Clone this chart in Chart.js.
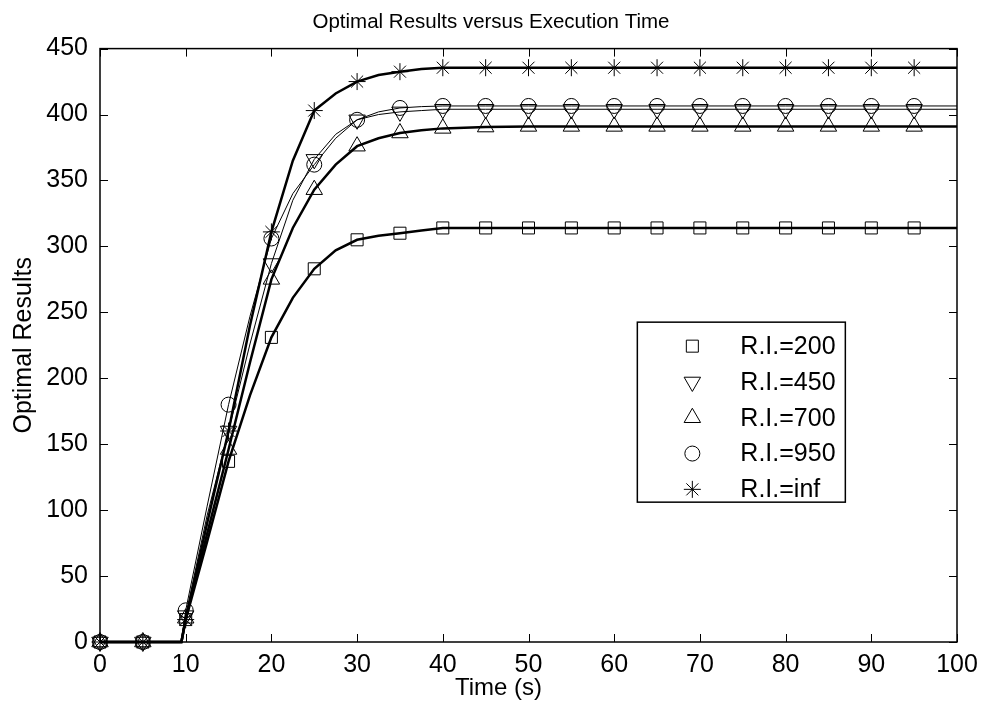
<!DOCTYPE html>
<html>
<head>
<meta charset="utf-8">
<script src="https://cdn.jsdelivr.net/npm/chart.js@4.4.1/dist/chart.umd.min.js"></script>
<style>
  html, body { margin: 0; padding: 0; background: #fff; }
  #wrap { width: 982px; height: 714px; }
</style>
</head>
<body>
<div id="wrap"><canvas id="chart" width="982" height="714"></canvas></div>
<script>
// time points (s); markers sit at every 5 s
var lineTimes = [0, 5, 9.5, 10, 12.5, 15, 17.5, 20, 22.5, 25, 27.5, 30, 32.5, 35, 37.5, 40,
  45, 50, 55, 60, 65, 70, 75, 80, 85, 90, 95, 100];

// optimal results per R.I. setting
var ri200 = [0, 0, 0, 17, 76, 137, 187, 231, 261, 283, 297, 305, 308, 310, 312, 314,
  314, 314, 314, 314, 314, 314, 314, 314, 314, 314, 314, 314];
var ri450 = [0, 0, 0, 20, 96, 160, 226, 287, 335, 366, 385, 396, 400, 402, 403, 404,
  404, 404, 404, 404, 404, 404, 404, 404, 404, 404, 404, 404];
var ri700 = [0, 0, 0, 18, 82, 146, 212, 275, 314, 343, 362, 376, 382, 386, 388, 389.5,
  390.5, 391, 391, 391, 391, 391, 391, 391, 391, 391, 391, 391];
var ri950 = [0, 0, 0, 24, 103, 180, 247, 306, 340, 362, 382, 396, 402, 405, 406, 406.5,
  406.5, 406.5, 406.5, 406.5, 406.5, 406.5, 406.5, 406.5, 406.5, 406.5, 406.5, 406.5];
var riInf = [0, 0, 0, 17, 90, 160, 240, 311, 365, 403, 416, 425, 430, 432.5, 434.5, 435.5,
  435.5, 435.5, 435.5, 435.5, 435.5, 435.5, 435.5, 435.5, 435.5, 435.5, 435.5, 435.5];

var seriesLabels = ["R.I.=200", "R.I.=450", "R.I.=700", "R.I.=950", "R.I.=inf"];
var xTicks = [0, 10, 20, 30, 40, 50, 60, 70, 80, 90, 100];
var yTicks = [0, 50, 100, 150, 200, 250, 300, 350, 400, 450];

var FONT = "'Liberation Sans', Arial, Helvetica, sans-serif";

// marker look for each series (matlab style symbols)
var seriesStyle = [
  { values: ri200, pointStyle: "rect", rotation: 0, radius: 8.5, lineWidth: 2.5 },
  { values: ri450, pointStyle: "triangle", rotation: 180, radius: 9.5, lineWidth: 1 },
  { values: ri700, pointStyle: "triangle", rotation: 0, radius: 9.5, lineWidth: 2.5 },
  { values: ri950, pointStyle: "circle", rotation: 0, radius: 7.5, lineWidth: 1 },
  { values: riInf, pointStyle: "star", rotation: 0, radius: 8.5, lineWidth: 2.5 }
];

function toPoints(values, onlyMarkers) {
  var pts = [];
  for (var i = 0; i < lineTimes.length; i++) {
    var t = lineTimes[i];
    if (onlyMarkers && (t % 5 !== 0 || t >= 100)) { continue; }
    pts.push({ x: t, y: values[i] });
  }
  return pts;
}

var datasets = [];
// lines first
seriesStyle.forEach(function (s, i) {
  datasets.push({
    label: seriesLabels[i] + " line",
    data: toPoints(s.values, false),
    borderColor: "#000",
    borderWidth: s.lineWidth,
    pointRadius: 0,
    tension: 0,
    fill: false,
    clip: false
  });
});
// then markers
seriesStyle.forEach(function (s, i) {
  datasets.push({
    label: seriesLabels[i],
    data: toPoints(s.values, true),
    showLine: false,
    clip: false,
    pointStyle: s.pointStyle,
    rotation: s.rotation,
    pointRadius: s.radius,
    pointBorderColor: "#000",
    pointBackgroundColor: "rgba(0,0,0,0)",
    pointBorderWidth: 1
  });
});

// box round the axes plus inward tick marks on all four sides, x label
var axesBox = {
  id: "axesBox",
  afterDraw: function (chart) {
    var ctx = chart.ctx;
    var a = chart.chartArea;
    var xs = chart.scales.x;
    var ys = chart.scales.y;
    var tl = 8;
    ctx.save();
    ctx.strokeStyle = "#000";
    ctx.lineWidth = 1;
    ctx.beginPath();
    xTicks.forEach(function (v) {
      var px = Math.round(xs.getPixelForValue(v)) + 0.5;
      ctx.moveTo(px, a.bottom); ctx.lineTo(px, a.bottom - tl);
      ctx.moveTo(px, a.top); ctx.lineTo(px, a.top + tl);
    });
    yTicks.forEach(function (v) {
      var py = Math.round(ys.getPixelForValue(v)) + 0.5;
      ctx.moveTo(a.left, py); ctx.lineTo(a.left + tl, py);
      ctx.moveTo(a.right, py); ctx.lineTo(a.right - tl, py);
    });
    ctx.stroke();
    ctx.lineWidth = 1.5;
    ctx.strokeRect(a.left, a.top, a.right - a.left, a.bottom - a.top);

    // x axis label sits a bit left of centre in the original
    ctx.fillStyle = "#000";
    ctx.font = "24px " + FONT;
    ctx.textAlign = "center";
    ctx.textBaseline = "middle";
    ctx.fillText("Time (s)", (a.left + a.right) / 2 - 30, a.bottom + 46);
    ctx.restore();
  }
};

// legend box drawn inside the plot area, markers only
var innerLegend = {
  id: "innerLegend",
  afterDraw: function (chart) {
    var ctx = chart.ctx;
    var a = chart.chartArea;
    var w = a.right - a.left;
    var h = a.bottom - a.top;
    var boxX = a.left + w * 0.627;
    var boxY = a.top + h * 0.461;
    var boxW = 208;
    var boxH = 180;
    var rowH = 35.8;
    ctx.save();
    ctx.fillStyle = "#fff";
    ctx.fillRect(boxX, boxY, boxW, boxH);
    ctx.strokeStyle = "#000";
    ctx.lineWidth = 1.5;
    ctx.strokeRect(boxX, boxY, boxW, boxH);
    ctx.font = "25px " + FONT;
    ctx.textBaseline = "middle";
    seriesStyle.forEach(function (s, i) {
      var cy = boxY + 24 + rowH * i;
      ctx.fillStyle = "rgba(0,0,0,0)";
      ctx.strokeStyle = "#000";
      ctx.lineWidth = 1;
      Chart.helpers.drawPoint(ctx, {
        pointStyle: s.pointStyle,
        rotation: s.rotation,
        radius: s.radius,
        borderWidth: 1
      }, boxX + 55, cy);
      ctx.fillStyle = "#000";
      ctx.fillText(seriesLabels[i], boxX + 103, cy + 1);
    });
    ctx.restore();
  }
};

new Chart(document.getElementById("chart"), {
  type: "line",
  data: { datasets: datasets },
  plugins: [axesBox, innerLegend],
  options: {
    responsive: false,
    animation: false,
    devicePixelRatio: 1,
    layout: { padding: 0 },
    plugins: {
      legend: { display: false },
      tooltip: { enabled: false },
      title: {
        display: true,
        text: "Optimal Results versus Execution Time",
        color: "#000",
        font: { family: FONT, size: 20.5, weight: "normal" },
        padding: { top: 10, bottom: 14 }
      }
    },
    scales: {
      x: {
        type: "linear",
        min: 0,
        max: 100,
        afterBuildTicks: function (scale) {
          scale.ticks = xTicks.map(function (v) { return { value: v }; });
        },
        afterFit: function (scale) {
          scale.height = 72;
          scale.paddingLeft = 0;
          // room on the right for the "100" label
          scale.paddingRight = 25;
        },
        grid: { display: false, drawTicks: false },
        border: { display: false },
        ticks: {
          color: "#000",
          padding: 8,
          maxRotation: 0,
          font: { family: FONT, size: 25 }
        }
      },
      y: {
        type: "linear",
        min: 0,
        max: 450,
        afterBuildTicks: function (scale) {
          scale.ticks = yTicks.map(function (v) { return { value: v }; });
        },
        afterFit: function (scale) {
          scale.width = 100;
          scale.paddingTop = 0;
          scale.paddingBottom = 0;
        },
        grid: { display: false, drawTicks: false },
        border: { display: false },
        ticks: {
          color: "#000",
          padding: 12,
          font: { family: FONT, size: 25 }
        },
        title: {
          display: true,
          text: "Optimal Results",
          color: "#000",
          font: { family: FONT, size: 25 },
          padding: { top: 9, bottom: 0 }
        }
      }
    }
  }
});
</script>
</body>
</html>
